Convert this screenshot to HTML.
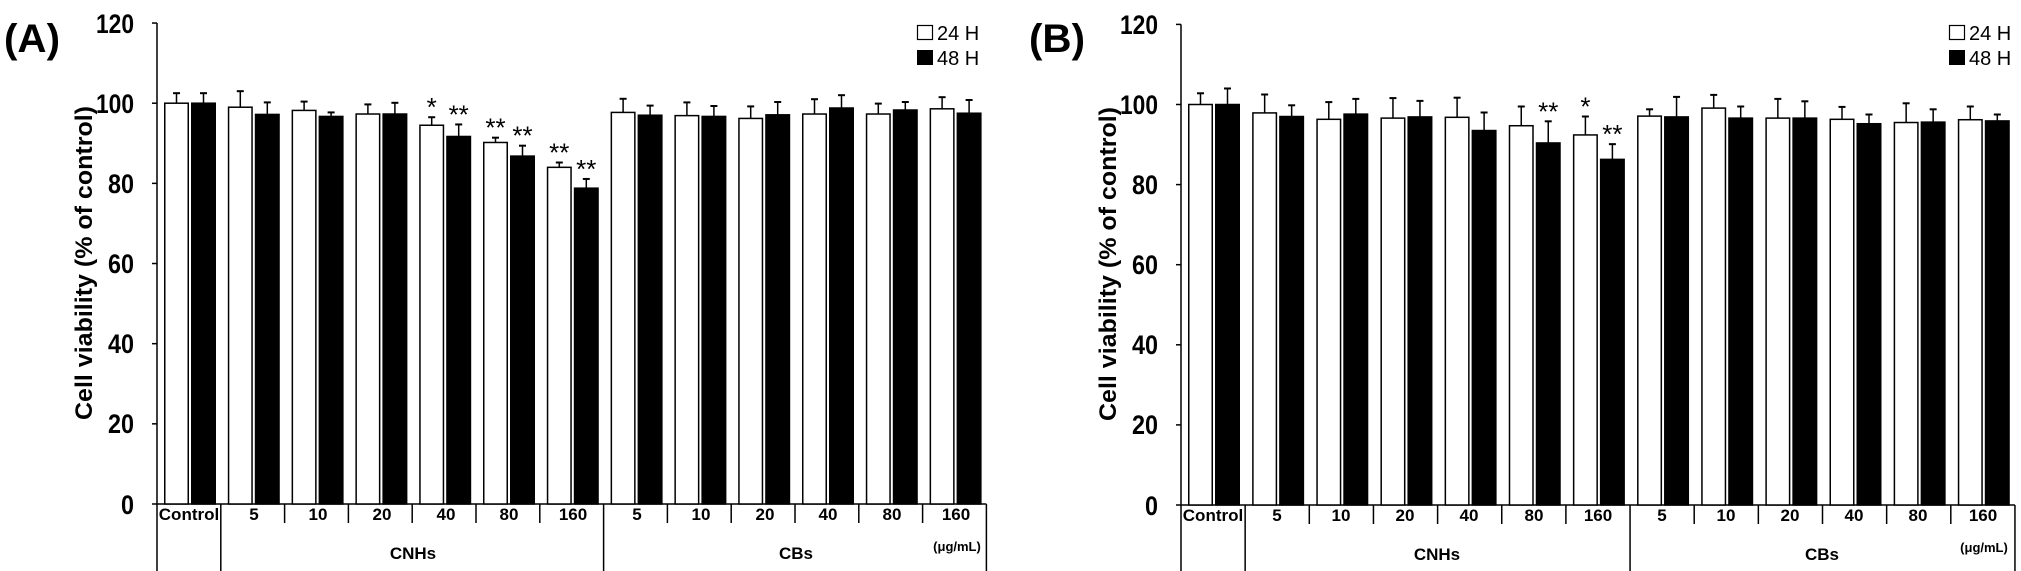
<!DOCTYPE html>
<html><head><meta charset="utf-8"><style>
html,body{margin:0;padding:0;background:#fff;}
svg{display:block;font-family:"Liberation Sans",Arial,sans-serif;}
</style></head><body>
<svg id="s" width="2021" height="571" viewBox="0 0 2021 571" xmlns="http://www.w3.org/2000/svg">
<g font-weight="bold" fill="#000">
<text x="4" y="52" font-size="40" textLength="56" lengthAdjust="spacingAndGlyphs">(A)</text>
<text x="1029" y="52" font-size="40" textLength="56" lengthAdjust="spacingAndGlyphs">(B)</text>
<text transform="translate(92,420) rotate(-90)" font-size="24" textLength="314" lengthAdjust="spacingAndGlyphs">Cell viability (% of control)</text>
<text transform="translate(1116,421) rotate(-90)" font-size="24" textLength="314" lengthAdjust="spacingAndGlyphs">Cell viability (% of control)</text>
</g>
<g font-weight="bold" font-size="27" text-anchor="end" id="yt">
<text x="134" y="33" textLength="38" lengthAdjust="spacingAndGlyphs">120</text>
<text x="134" y="113" textLength="38" lengthAdjust="spacingAndGlyphs">100</text>
<text x="134" y="193" textLength="26" lengthAdjust="spacingAndGlyphs">80</text>
<text x="134" y="273" textLength="26" lengthAdjust="spacingAndGlyphs">60</text>
<text x="134" y="353" textLength="26" lengthAdjust="spacingAndGlyphs">40</text>
<text x="134" y="433" textLength="26" lengthAdjust="spacingAndGlyphs">20</text>
<text x="134" y="514" textLength="13" lengthAdjust="spacingAndGlyphs">0</text>
<text x="1158" y="34" textLength="38" lengthAdjust="spacingAndGlyphs">120</text>
<text x="1158" y="114" textLength="38" lengthAdjust="spacingAndGlyphs">100</text>
<text x="1158" y="194" textLength="26" lengthAdjust="spacingAndGlyphs">80</text>
<text x="1158" y="274" textLength="26" lengthAdjust="spacingAndGlyphs">60</text>
<text x="1158" y="354" textLength="26" lengthAdjust="spacingAndGlyphs">40</text>
<text x="1158" y="434" textLength="26" lengthAdjust="spacingAndGlyphs">20</text>
<text x="1158" y="515" textLength="13" lengthAdjust="spacingAndGlyphs">0</text>
</g>
<g font-weight="bold" font-size="17" text-anchor="middle">
<text x="189" y="520">Control</text>
<text x="254" y="520">5</text><text x="318" y="520">10</text><text x="382" y="520">20</text><text x="446" y="520">40</text><text x="509" y="520">80</text><text x="573" y="520">160</text>
<text x="637" y="520">5</text><text x="701" y="520">10</text><text x="765" y="520">20</text><text x="828" y="520">40</text><text x="892" y="520">80</text><text x="956" y="520">160</text>
<text x="413" y="559">CNHs</text><text x="796" y="559">CBs</text>
<text x="1213" y="521">Control</text>
<text x="1277" y="521">5</text><text x="1341" y="521">10</text><text x="1405" y="521">20</text><text x="1469" y="521">40</text><text x="1534" y="521">80</text><text x="1598" y="521">160</text>
<text x="1662" y="521">5</text><text x="1726" y="521">10</text><text x="1790" y="521">20</text><text x="1854" y="521">40</text><text x="1918" y="521">80</text><text x="1983" y="521">160</text>
<text x="1437" y="560">CNHs</text><text x="1822" y="560">CBs</text>
<text x="957" y="551" font-size="13">(μg/mL)</text>
<text x="1984" y="552" font-size="13">(μg/mL)</text>
</g>
<g font-size="20">
<rect x="917.5" y="25.5" width="15" height="14" fill="#fff" stroke="#000" stroke-width="1.2"/>
<rect x="917" y="50" width="16" height="15" fill="#000"/>
<text x="937" y="40">24 H</text><text x="937" y="65">48 H</text>
<rect x="1949.5" y="25.5" width="15" height="14" fill="#fff" stroke="#000" stroke-width="1.2"/>
<rect x="1949" y="50" width="16" height="15" fill="#000"/>
<text x="1969" y="40">24 H</text><text x="1969" y="65">48 H</text>
</g>
<g id="bars"></g>
</svg>
<script>
var NS="http://www.w3.org/2000/svg",G=document.getElementById("bars");
function el(t,a){var e=document.createElementNS(NS,t);for(var k in a)e.setAttribute(k,a[k]);G.appendChild(e);return e;}
function panel(x0,gw,y0,k,data,stars){
  var top=y0-120*k, end=x0+13*gw;
  el("line",{x1:x0,y1:top,x2:x0,y2:571,stroke:"#000","stroke-width":1.5});
  for(var v=0;v<=120;v+=20){var y=y0-v*k;el("line",{x1:x0-5,y1:y,x2:x0,y2:y,stroke:"#000","stroke-width":1.5});}
  el("line",{x1:x0,y1:y0,x2:end,y2:y0,stroke:"#000","stroke-width":1.5});
  for(var i=1;i<=13;i++){var x=x0+i*gw;var full=(i==1||i==7||i==13);
    el("line",{x1:x,y1:y0,x2:x,y2:full?571:y0+19,stroke:"#000","stroke-width":1.5});}
  for(var i=0;i<13;i++){
    var d=data[i];
    for(var j=0;j<2;j++){
      var val=d[j*2],er=d[j*2+1];
      var bx=x0+i*gw+7+j*27,bw=25,by=y0-val*k;
      var cx=bx+bw/2,ey=y0-(val+er)*k;
      el("line",{x1:cx,y1:by,x2:cx,y2:ey,stroke:"#000","stroke-width":1.5});
      el("line",{x1:cx-3.5,y1:ey,x2:cx+3.5,y2:ey,stroke:"#000","stroke-width":2});
      el("rect",{x:bx+0.75,y:by,width:bw-1.5,height:y0-by,fill:j?"#000":"#fff",stroke:"#000","stroke-width":1.5});
      var s=stars[i*2+j];
      if(s){var t=el("text",{x:cx,y:ey-1,"font-size":26,"text-anchor":"middle"});t.textContent=s;}
    }
  }
}
panel(157,63.8,504,4.008,[
[100,2.5,100,2.5],[99,4,97.2,3],[98.2,2.2,96.7,1],[97.3,2.4,97.3,2.8],[94.5,2,91.7,3],[90.2,1.2,86.8,2.6],[84,1.2,78.8,2.3],
[97.7,3.4,97,2.4],[96.9,3.3,96.7,2.6],[96.2,3,97.1,3.2],[97.3,3.7,98.8,3.2],[97.3,2.6,98.3,2],[98.6,2.9,97.5,3.3]],
["","","","","","","","","*","**","**","**","**","**"]);
panel(1181,64.15,505,4.005,[
[100,2.8,100,4],[97.9,4.6,97,2.8],[96.3,4.3,97.6,3.8],[96.6,5,96.9,4],[96.8,4.9,93.5,4.5],[94.7,4.8,90.4,5.4],[92.4,4.6,86.3,3.8],
[97.1,1.7,96.9,5],[99.1,3.3,96.6,2.9],[96.6,4.8,96.6,4.2],[96.3,3.1,95.2,2.3],[95.5,4.8,95.6,3.2],[96.2,3.3,95.9,1.6]],
["","","","","","","","","","","","**","*","**"]);
</script>
</body></html>
